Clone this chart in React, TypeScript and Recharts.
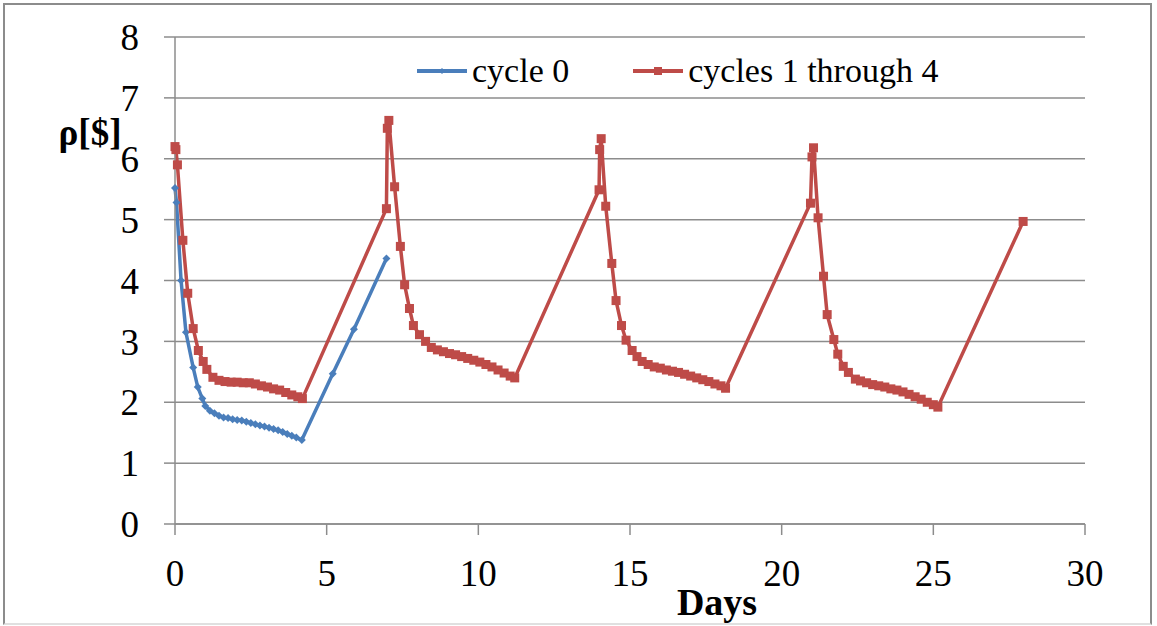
import { LineChart, Line, XAxis, YAxis, CartesianGrid, Legend } from 'recharts';

const FONT = "'Liberation Serif', 'Times New Roman', serif";
const BLUE = '#4A7EBB';
const RED = '#BE4B48';
const GRID = '#8c8c8c';

const xTicks = [0, 5, 10, 15, 20, 25, 30];
const yTicks = [0, 1, 2, 3, 4, 5, 6, 7, 8];

// [day, rho]
const cycle0: [number, number][] = [
    [0, 5.52], [0.05, 5.28], [0.2, 4.0], [0.36, 3.15], [0.6, 2.57], [0.75, 2.25], [0.9, 2.06], [1.0, 1.94],
    [1.15, 1.86], [1.3, 1.82], [1.45, 1.78], [1.6, 1.75], [1.75, 1.74], [1.9, 1.72], [2.05, 1.71], [2.2, 1.7],
    [2.35, 1.68], [2.5, 1.66], [2.65, 1.64], [2.8, 1.62], [2.95, 1.6], [3.1, 1.58], [3.25, 1.56], [3.4, 1.54],
    [3.55, 1.51], [3.7, 1.48], [3.85, 1.45], [4.0, 1.42], [4.18, 1.38], [5.2, 2.47], [5.9, 3.2], [6.97, 4.36],
];

const cycle1: [number, number][] = [
    [0, 6.2], [0.03, 6.15], [0.08, 5.9], [0.26, 4.66], [0.42, 3.79], [0.6, 3.21], [0.77, 2.85], [0.93, 2.67],
    [1.05, 2.54], [1.25, 2.41], [1.45, 2.36], [1.65, 2.34], [1.85, 2.33], [2.05, 2.33], [2.25, 2.32], [2.45, 2.32],
    [2.65, 2.3], [2.85, 2.27], [3.05, 2.25], [3.25, 2.22], [3.45, 2.2], [3.65, 2.16], [3.85, 2.12], [4.05, 2.09],
    [4.2, 2.06], [6.97, 5.18],
];

const cycle2: [number, number][] = [
    [7.0, 6.5], [7.05, 6.63], [7.24, 5.54], [7.43, 4.56], [7.57, 3.93], [7.73, 3.54], [7.86, 3.26], [8.06, 3.11],
    [8.26, 3.0], [8.45, 2.9], [8.65, 2.86], [8.85, 2.83], [9.05, 2.8], [9.25, 2.78], [9.45, 2.75], [9.65, 2.72],
    [9.85, 2.69], [10.05, 2.66], [10.25, 2.62], [10.45, 2.58], [10.65, 2.53], [10.85, 2.48], [11.05, 2.43],
    [11.2, 2.4], [13.98, 5.49],
];

const cycle3: [number, number][] = [
    [14.0, 6.15], [14.05, 6.33], [14.2, 5.22], [14.4, 4.28], [14.54, 3.67], [14.72, 3.26], [14.87, 3.02],
    [15.07, 2.85], [15.23, 2.75], [15.4, 2.67], [15.6, 2.62], [15.8, 2.58], [16.0, 2.56], [16.2, 2.53],
    [16.4, 2.51], [16.6, 2.49], [16.8, 2.46], [17.0, 2.43], [17.2, 2.4], [17.4, 2.37], [17.6, 2.34],
    [17.8, 2.3], [18.0, 2.27], [18.15, 2.23], [20.95, 5.27],
];

const cycle4: [number, number][] = [
    [21.0, 6.03], [21.05, 6.18], [21.2, 5.03], [21.38, 4.07], [21.5, 3.44], [21.72, 3.03], [21.85, 2.79],
    [22.03, 2.59], [22.2, 2.49], [22.43, 2.38], [22.6, 2.35], [22.8, 2.32], [23.0, 2.29], [23.2, 2.27],
    [23.4, 2.25], [23.6, 2.22], [23.8, 2.2], [24.0, 2.17], [24.2, 2.13], [24.4, 2.09], [24.6, 2.05],
    [24.8, 2.0], [25.0, 1.96], [25.15, 1.92], [27.96, 4.97],
];

const toRows = (pts: [number, number][]) => pts.map(([d, v]) => ({ d, v }));

const blueData = toRows(cycle0);
const redData = toRows([...cycle1, ...cycle2, ...cycle3, ...cycle4]);

const SquareDot = (props: any) => {
    const { cx, cy, key } = props;
    if (cx == null || cy == null) return null;
    return <rect key={key} x={cx - 4.5} y={cy - 4.5} width={9} height={9} fill={RED} />;
};

const DiamondDot = (props: any) => {
    const { cx, cy, key } = props;
    if (cx == null || cy == null) return null;
    return <polygon key={key} points={`${cx},${cy - 4} ${cx + 4},${cy} ${cx},${cy + 4} ${cx - 4},${cy}`} fill={BLUE} />;
};

const LegendBox = () => (
    <div style={{ display: 'flex', alignItems: 'center', fontFamily: FONT, fontSize: 34, color: '#000', lineHeight: '36px', whiteSpace: 'nowrap' }}>
        <svg width={50} height={10} style={{ marginRight: 5 }}>
            <line x1={0} y1={5} x2={50} y2={5} stroke={BLUE} strokeWidth={4} />
            <polygon points="25,2 28,5 25,8 22,5" fill={BLUE} />
        </svg>
        <span>cycle 0</span>
        <svg width={50} height={10} style={{ marginLeft: 64, marginRight: 5 }}>
            <line x1={0} y1={5} x2={50} y2={5} stroke={RED} strokeWidth={4} />
            <rect x={21} y={1} width={8} height={8} fill={RED} />
        </svg>
        <span>cycles 1 through 4</span>
    </div>
);

const DaysLabel = (props: any) => {
    const { viewBox } = props;
    return (
        <text x={717} y={viewBox.y + 91} textAnchor="middle" style={{ fontFamily: FONT }} fontSize={38} fontWeight="bold" fill="#000">
            Days
        </text>
    );
};

const RhoLabel = () => (
    <text x={90} y={145} textAnchor="middle" style={{ fontFamily: FONT }} fontSize={37} fontWeight="bold" fill="#000">
        ρ[$]
    </text>
);

const tickStyle = { fontFamily: FONT, fontSize: 37, fill: '#000' };

export default function App() {
    return (
        <div style={{ position: 'absolute', left: 0, top: 0, width: 1157, height: 626, background: '#fff', fontFamily: FONT }}>
            <div style={{ position: 'absolute', left: 3, top: 3, width: 1145, height: 618, border: '2px solid #8c8c8c', borderBottomColor: '#e0e0e0' }} />
            <LineChart width={1157} height={626} margin={{ top: 37, right: 72, left: 0, bottom: 0 }} style={{ fontFamily: FONT }}>
                <CartesianGrid vertical={false} stroke={GRID} strokeWidth={1.5} />
                <XAxis
                    dataKey="d"
                    type="number"
                    domain={[0, 30]}
                    ticks={xTicks}
                    height={102}
                    tickSize={11}
                    tickMargin={25}
                    axisLine={{ stroke: GRID, strokeWidth: 1.5 }}
                    tickLine={{ stroke: GRID, strokeWidth: 1.5 }}
                    tick={tickStyle}
                    label={<DaysLabel />}
                    allowDuplicatedCategory={false}
                />
                <YAxis
                    type="number"
                    domain={[0, 8]}
                    ticks={yTicks}
                    width={175}
                    tickSize={11}
                    tickMargin={25}
                    axisLine={{ stroke: GRID, strokeWidth: 1.5 }}
                    tickLine={{ stroke: GRID, strokeWidth: 1.5 }}
                    tick={tickStyle}
                    label={<RhoLabel />}
                />
                <Legend
                    verticalAlign="middle"
                    align="center"
                    content={<LegendBox />}
                    wrapperStyle={{ position: 'absolute', top: 53, left: 417, width: 'auto' }}
                />
                <Line
                    data={blueData}
                    dataKey="v"
                    name="cycle 0"
                    stroke={BLUE}
                    strokeWidth={3.5}
                    dot={DiamondDot}
                    activeDot={false}
                    isAnimationActive={false}
                />
                <Line
                    data={redData}
                    dataKey="v"
                    name="cycles 1 through 4"
                    stroke={RED}
                    strokeWidth={3.5}
                    dot={SquareDot}
                    activeDot={false}
                    isAnimationActive={false}
                />
            </LineChart>
        </div>
    );
}
